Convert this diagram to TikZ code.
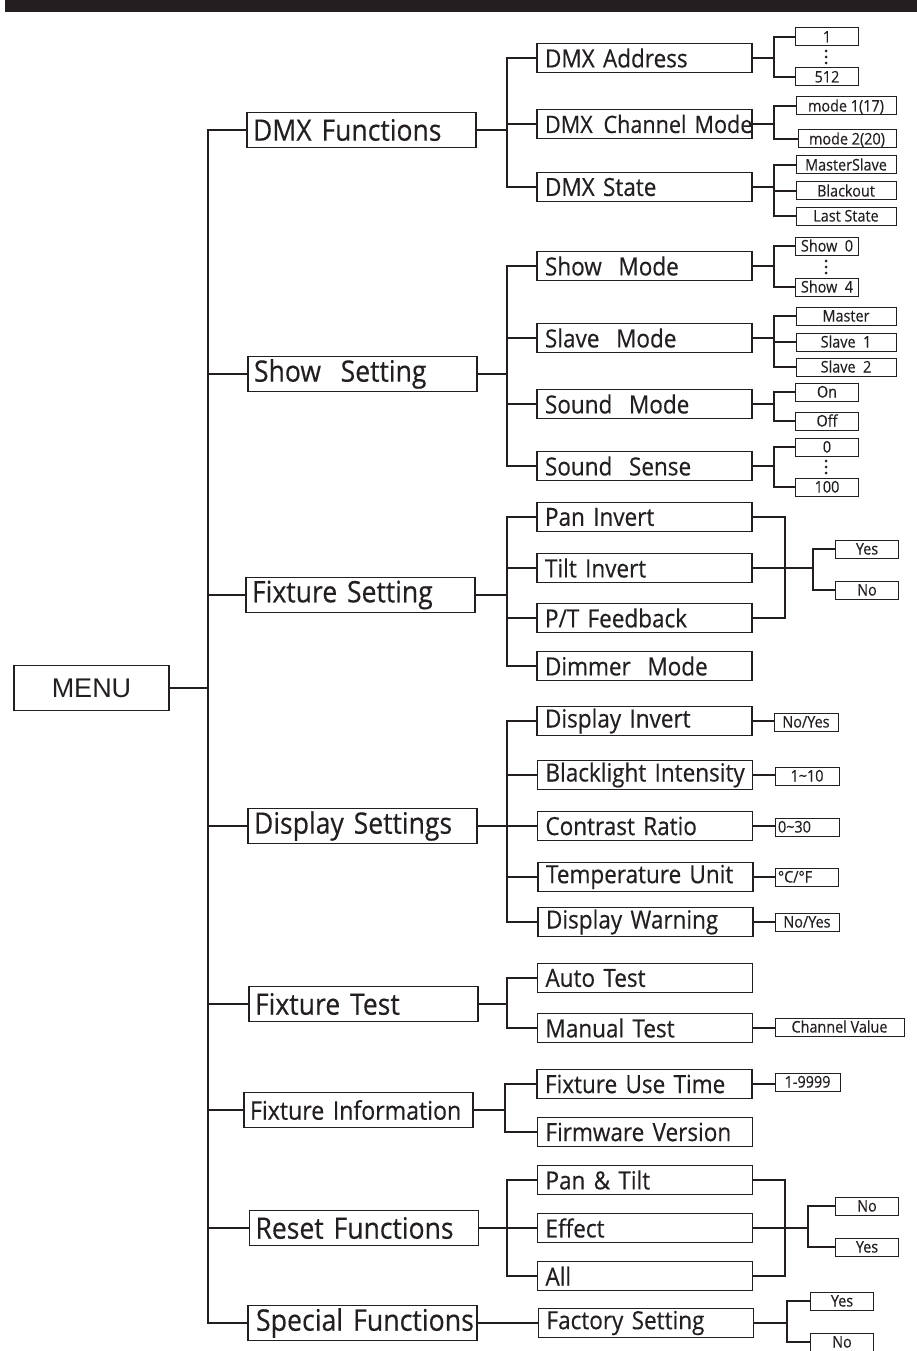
\documentclass[tikz,border=0pt]{standalone}
\usepackage{fontspec}
\setmainfont{Open Sans}[FakeStretch=0.9,FakeBold=0.4]
\newfontfamily\menufont{Liberation Sans}
\definecolor{ink}{RGB}{35,31,32}
\begin{document}
\begin{tikzpicture}[x=1pt,y=-1pt,
  conn/.style={draw=ink,line width=1.3pt,line cap=rect},
  Lone/.style={draw=ink,line width=1.3pt,text=ink,minimum height=35pt,text width=217pt,inner xsep=6pt,inner ysep=0pt,align=left,font=\fontsize{29.5}{29.5}\selectfont},
  Ltwo/.style={draw=ink,line width=1.3pt,text=ink,minimum height=29pt,text width=199pt,inner xsep=8pt,inner ysep=0pt,align=left,font=\fontsize{25}{25}\selectfont},
  Lthree/.style={draw=ink,line width=1pt,text=ink,minimum height=18pt,minimum width=63pt,inner sep=0pt,text height=13pt,text depth=2pt,font=\fontsize{16}{16}\selectfont},
  wide/.style={minimum width=100pt},
  dotm/.style={fill=ink}]
\useasboundingbox (0,0) rectangle (917,1351);
\fill[ink] (5,0) rectangle (917,12);

% MENU
\node[draw=ink,line width=1.3pt,minimum width=155pt,minimum height=45pt,inner sep=0pt,font=\menufont\fontsize{27}{27}\selectfont,text=ink] (menu) at (91.5,688) {MENU};

% level 1
\node[Lone] (dmxf)  at (361.5,130) {DMX Functions};
\node[Lone] (show)  at (362.5,374) {Show~ Setting};
\node[Lone] (fixs)  at (360.5,595) {Fixture Setting};
\node[Lone] (disp)  at (362.5,826) {Display Settings};
\node[Lone] (fixt)  at (363.5,1004) {Fixture Test};
\node[Lone,font=\fontsize{25.7}{25.7}\selectfont] (fixi)  at (358.5,1110) {Fixture Information};
\node[Lone] (reset) at (364,1228) {Reset Functions};
\node[Lone,font=\fontsize{29.7}{29.7}\selectfont,inner xsep=8pt,text width=213pt] (spec)  at (362.5,1323) {\mbox{Special Functions}};

% level 2
\node[Ltwo] (dmxa) at (644.5,58)  {DMX Address};
\node[Ltwo,font=\fontsize{24}{24}\selectfont] (dmxc) at (644.5,124) {\mbox{DMX\hspace{0.45em}Channel Mode}};
\node[Ltwo] (dmxs) at (644.5,187) {DMX State};
\node[Ltwo] (shm)  at (644.5,266) {Show~ Mode};
\node[Ltwo] (slm)  at (644.5,338) {Slave~ Mode};
\node[Ltwo] (som)  at (644.5,404) {Sound~ Mode};
\node[Ltwo] (sos)  at (644.5,466) {Sound~ Sense};
\node[Ltwo] (pan)  at (644.5,517) {Pan Invert};
\node[Ltwo] (tilt) at (644.5,568) {Tilt Invert};
\node[Ltwo] (ptf)  at (644.5,618) {P/T Feedback};
\node[Ltwo] (dim)  at (644.5,666) {Dimmer~ Mode};
\node[Ltwo] (dinv) at (644.5,721) {Display Invert};
\node[Ltwo] (bli)  at (645,775)   {\mbox{Blacklight Intensity}};
\node[Ltwo] (con)  at (645,826)   {Contrast Ratio};
\node[Ltwo] (tem)  at (645.5,877) {Temperature Unit};
\node[Ltwo] (dwa)  at (645.5,922) {Display Warning};
\node[Ltwo] (auto) at (645,978)   {Auto Test};
\node[Ltwo] (man)  at (645,1028)  {Manual Test};
\node[Ltwo] (fut)  at (644.5,1084){Fixture Use Time};
\node[Ltwo] (fwv)  at (645,1132)  {Firmware Version};
\node[Ltwo] (pt)   at (645,1180)  {Pan \& Tilt};
\node[Ltwo] (eff)  at (645,1228)  {Effect};
\node[Ltwo] (all)  at (645,1276)  {All};
\node[Ltwo] (fac)  at (646,1323)  {Factory Setting};

% level 3
\node[Lthree] (a1)   at (827,37)  {1};
\node[Lthree] (a512) at (827,77)  {512};
\node[Lthree,wide] (m1) at (846,106) {mode 1(17)};
\node[Lthree,wide,minimum width=98pt] (m2) at (847,139) {mode 2(20)};
\node[Lthree,wide] (ms) at (846,165) {MasterSlave};
\node[Lthree,wide] (bo) at (846,191) {Blackout};
\node[Lthree,wide] (ls) at (846,216) {Last State};
\node[Lthree] (s0) at (827,246) {Show~ 0};
\node[Lthree] (s4) at (827,287) {Show~ 4};
\node[Lthree,wide] (mas) at (846,316) {Master};
\node[Lthree,wide] (sl1) at (846,342) {Slave~ 1};
\node[Lthree,wide] (sl2) at (846,367) {Slave~ 2};
\node[Lthree] (on)  at (827,392) {On};
\node[Lthree] (off) at (827,421) {Off};
\node[Lthree] (z)   at (827,447) {0};
\node[Lthree] (h)   at (827,487) {100};
\node[Lthree] (yes1) at (867,549) {Yes};
\node[Lthree] (no1)  at (867,590) {No};
\node[Lthree,minimum width=64pt] (vdi) at (806,722) {No/Yes};
\node[Lthree,minimum width=64pt] (vbl) at (807,776) {1\textasciitilde10};
\node[Lthree,minimum width=64pt,text width=58pt,align=left] (vco) at (807,827) {0\textasciitilde30};
\node[Lthree,minimum width=63pt,text width=57pt,align=left] (vte) at (806.5,877) {°C/°F};
\node[Lthree,minimum width=64pt] (vdw) at (807,922) {No/Yes};
\node[Lthree,minimum width=129pt] (cv) at (839.5,1027) {Channel Value};
\node[Lthree,minimum width=65pt] (t99) at (807.5,1082) {1-9999};
\node[Lthree] (no2)  at (867,1206) {No};
\node[Lthree] (yes2) at (867,1247) {Yes};
\node[Lthree] (yes3) at (842,1301) {Yes};
\node[Lthree] (no3)  at (842,1342) {No};

% bus coordinates
\coordinate (mb) at (208,0);
\coordinate (b2) at (507,0);
\coordinate (b2i) at (505,0);
\coordinate (b3) at (774,0);
\coordinate (fa) at (785,0);
\coordinate (fb) at (813,0);
\coordinate (ra) at (785,0);
\coordinate (rb) at (808,0);
\coordinate (sb) at (787,0);

% main tree
\draw[conn] (menu.east) -- (menu.east -| mb);
\draw[conn] (dmxf.west -| mb) -- (spec.west -| mb);
\foreach \n in {dmxf,show,fixs,disp,fixt,fixi,reset,spec}
  \draw[conn] (\n.west -| mb) -- (\n.west);

% level 2 groups
\draw[conn] (dmxf.east) -- (dmxf.east -| b2);
\draw[conn] (dmxa.west -| b2) -- (dmxs.west -| b2);
\foreach \n in {dmxa,dmxc,dmxs} \draw[conn] (\n.west -| b2) -- (\n.west);

\draw[conn] (show.east) -- (show.east -| b2);
\draw[conn] (shm.west -| b2) -- (sos.west -| b2);
\foreach \n in {shm,slm,som,sos} \draw[conn] (\n.west -| b2) -- (\n.west);

\draw[conn] (fixs.east) -- (fixs.east -| b2);
\draw[conn] (pan.west -| b2) -- (dim.west -| b2);
\foreach \n in {pan,tilt,ptf,dim} \draw[conn] (\n.west -| b2) -- (\n.west);

\draw[conn] (disp.east) -- (disp.east -| b2);
\draw[conn] (dinv.west -| b2) -- (dwa.west -| b2);
\foreach \n in {dinv,bli,con,tem,dwa} \draw[conn] (\n.west -| b2) -- (\n.west);

\draw[conn] (fixt.east) -- (fixt.east -| b2);
\draw[conn] (auto.west -| b2) -- (man.west -| b2);
\foreach \n in {auto,man} \draw[conn] (\n.west -| b2) -- (\n.west);

\draw[conn] (fixi.east) -- (fixi.east -| b2i);
\draw[conn] (fut.west -| b2i) -- (fwv.west -| b2i);
\foreach \n in {fut,fwv} \draw[conn] (\n.west -| b2i) -- (\n.west);

\draw[conn] (reset.east) -- (reset.east -| b2);
\draw[conn] (pt.west -| b2) -- (all.west -| b2);
\foreach \n in {pt,eff,all} \draw[conn] (\n.west -| b2) -- (\n.west);

\draw[conn] (spec.east) -- (spec.east -| fac.west);

% level 3 groups
\draw[conn] (dmxa.east) -- (dmxa.east -| b3);
\draw[conn] (a1.west -| b3) -- (a512.west -| b3);
\foreach \n in {a1,a512} \draw[conn] (\n.west -| b3) -- (\n.west);
\foreach \y in {51,57,63} \fill[dotm] (826,\y) circle (1.5);

\draw[conn] (dmxc.east) -- (dmxc.east -| b3);
\draw[conn] (m1.west -| b3) -- (m2.west -| b3);
\foreach \n in {m1,m2} \draw[conn] (\n.west -| b3) -- (\n.west);

\draw[conn] (dmxs.east) -- (dmxs.east -| b3);
\draw[conn] (ms.west -| b3) -- (ls.west -| b3);
\foreach \n in {ms,bo,ls} \draw[conn] (\n.west -| b3) -- (\n.west);

\draw[conn] (shm.east) -- (shm.east -| b3);
\draw[conn] (s0.west -| b3) -- (s4.west -| b3);
\foreach \n in {s0,s4} \draw[conn] (\n.west -| b3) -- (\n.west);
\foreach \y in {261,267,273} \fill[dotm] (826,\y) circle (1.5);

\draw[conn] (slm.east) -- (slm.east -| b3);
\draw[conn] (mas.west -| b3) -- (sl2.west -| b3);
\foreach \n in {mas,sl1,sl2} \draw[conn] (\n.west -| b3) -- (\n.west);

\draw[conn] (som.east) -- (som.east -| b3);
\draw[conn] (on.west -| b3) -- (off.west -| b3);
\foreach \n in {on,off} \draw[conn] (\n.west -| b3) -- (\n.west);

\draw[conn] (sos.east) -- (sos.east -| b3);
\draw[conn] (z.west -| b3) -- (h.west -| b3);
\foreach \n in {z,h} \draw[conn] (\n.west -| b3) -- (\n.west);
\foreach \y in {461,467,473} \fill[dotm] (826,\y) circle (1.5);

% fixture setting yes/no
\draw[conn] (pan.east) -- (pan.east -| fa);
\draw[conn] (ptf.east) -- (ptf.east -| fa);
\draw[conn] (pan.east -| fa) -- (ptf.east -| fa);
\draw[conn] (tilt.east) -- (tilt.east -| fb);
\draw[conn] (yes1.west -| fb) -- (no1.west -| fb);
\foreach \n in {yes1,no1} \draw[conn] (\n.west -| fb) -- (\n.west);

% display values
\foreach \a/\b in {dinv/vdi,bli/vbl,con/vco,tem/vte,dwa/vdw}
  \draw[conn] (\a.east) -- (\a.east -| \b.west);

\draw[conn] (man.east) -- (man.east -| cv.west);
\draw[conn] (fut.east) -- (fut.east -| t99.west);

% reset yes/no
\draw[conn] (pt.east) -- (pt.east -| ra);
\draw[conn] (all.east) -- (all.east -| ra);
\draw[conn] (pt.east -| ra) -- (all.east -| ra);
\draw[conn] (eff.east) -- (eff.east -| rb);
\draw[conn] (no2.west -| rb) -- (yes2.west -| rb);
\foreach \n in {no2,yes2} \draw[conn] (\n.west -| rb) -- (\n.west);

% factory
\draw[conn] (fac.east) -- (fac.east -| sb);
\draw[conn] (yes3.west -| sb) -- (no3.west -| sb);
\foreach \n in {yes3,no3} \draw[conn] (\n.west -| sb) -- (\n.west);
\end{tikzpicture}
\end{document}
